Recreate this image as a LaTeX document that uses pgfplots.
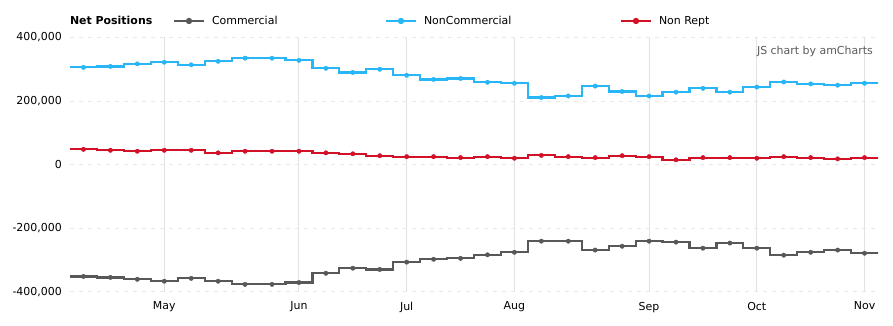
\documentclass[border=0pt]{standalone}
\usepackage{fontspec}
\setmainfont{DejaVu Sans}
\usepackage{pgfplots}
\pgfplotsset{compat=1.18}

\definecolor{comm}{RGB}{88,88,88}
\definecolor{noncomm}{RGB}{41,182,246}
\definecolor{nonrept}{RGB}{210,16,38}
\definecolor{vgrid}{RGB}{226,226,226}
\definecolor{hgrid}{RGB}{232,232,232}
\definecolor{wm}{RGB}{90,90,90}

% x = week index (0..29); rows at -1 and 30 repeat the end values so the steps reach the plot edges
\pgfplotstableread{
x y
-1 -352000
0 -352000
1 -355000
2 -361000
3 -367000
4 -358000
5 -367000
6 -377000
7 -377000
8 -371000
9 -342000
10 -326000
11 -330000
12 -307000
13 -298000
14 -295000
15 -284000
16 -276000
17 -241000
18 -241000
19 -269000
20 -257000
21 -241000
22 -244000
23 -263000
24 -247000
25 -263000
26 -285000
27 -276000
28 -269000
29 -279000
30 -279000
}\commtable

\pgfplotstableread{
x y
-1 306000
0 306000
1 309000
2 317000
3 322000
4 314000
5 325000
6 335000
7 335000
8 328000
9 303000
10 290000
11 300000
12 281000
13 268000
14 271000
15 259000
16 256000
17 211000
18 216000
19 247000
20 230000
21 216000
22 228000
23 240000
24 228000
25 244000
26 260000
27 254000
28 250000
29 256000
30 256000
}\noncommtable

\pgfplotstableread{
x y
-1 48000
0 48000
1 45000
2 42000
3 45000
4 45000
5 37000
6 42000
7 42000
8 42000
9 37000
10 34000
11 28000
12 25000
13 25000
14 22000
15 25000
16 20000
17 29000
18 25000
19 22000
20 28000
21 25000
22 15000
23 22000
24 22000
25 20000
26 25000
27 22000
28 18000
29 22000
30 22000
}\nonrepttable

\begin{document}
\fontsize{11pt}{13pt}\selectfont
\begin{tikzpicture}
\path[use as bounding box] (0,0) rectangle (893bp,326bp);
\begin{axis}[
  at={(70bp,34.3bp)}, anchor=south west,
  scale only axis, width=808bp, height=254.2bp,
  xmin=-0.5, xmax=29.5, ymin=-400000, ymax=400000,
  axis line style={draw=none},
  major tick length=0pt,
  tick style={draw=none},
  xtick={3,8,12,16,21,25,29},
  xticklabels={May,Jun,Jul,Aug,Sep,Oct,Nov},
  ytick={-400000,-200000,0,200000,400000},
  scaled y ticks=false,
  /pgf/number format/assume math mode=true,
  /pgf/number format/fixed,
  /pgf/number format/1000 sep={,},
  xmajorgrids, ymajorgrids,
  x grid style={vgrid, line width=1bp},
  y grid style={hgrid, line width=1bp, dash pattern=on 4bp off 5bp},
  ticklabel style={font=\fontsize{11pt}{13pt}\selectfont, text=black},
  yticklabel style={inner sep=0pt, anchor=east, xshift=-8bp},
  xticklabel style={inner sep=0pt, anchor=north, yshift=-10bp},
  legend columns=4,
  legend cell align=left,
  legend style={at={(axis description cs:0,1.065)}, anchor=west,
    draw=none, fill=none, inner sep=0pt, outer sep=0pt,
    column sep=0pt, nodes={inner sep=0pt, anchor=west},
    font=\fontsize{11pt}{13pt}\selectfont},
  legend image code/.code={
    \draw[#1, line width=2bp] (0bp,0bp) -- (30bp,0bp);
    \fill[#1] (15bp,0bp) circle (2bp);
  },
]
\addlegendimage{empty legend}
\addlegendentry{\makebox[103bp][l]{\bfseries Net Positions}}

\addplot[const plot mark mid, color=comm, line width=2.2bp, mark=none] table[x=x,y=y] {\commtable};
\addlegendentry{\makebox[180bp][l]{\hspace{7bp}Commercial}}
\addplot[const plot mark mid, color=noncomm, line width=2.2bp, mark=none] table[x=x,y=y] {\noncommtable};
\addlegendentry{\makebox[203bp][l]{\hspace{7bp}NonCommercial}}
\addplot[const plot mark mid, color=nonrept, line width=2.2bp, mark=none] table[x=x,y=y] {\nonrepttable};
\addlegendentry{\hspace{7bp}Non Rept}

\addplot[only marks, mark=*, mark size=2.2bp, color=comm, restrict x to domain=0:29, forget plot] table[x=x,y=y] {\commtable};
\addplot[only marks, mark=*, mark size=2.2bp, color=noncomm, restrict x to domain=0:29, forget plot] table[x=x,y=y] {\noncommtable};
\addplot[only marks, mark=*, mark size=2.2bp, color=nonrept, restrict x to domain=0:29, forget plot] table[x=x,y=y] {\nonrepttable};

\node[anchor=east, text=wm, inner sep=0pt, font=\fontsize{11pt}{13pt}\selectfont]
  at ([xshift=-5bp, yshift=-13.5bp]rel axis cs:1,1) {JS chart by amCharts};
\end{axis}
\end{tikzpicture}
\end{document}
